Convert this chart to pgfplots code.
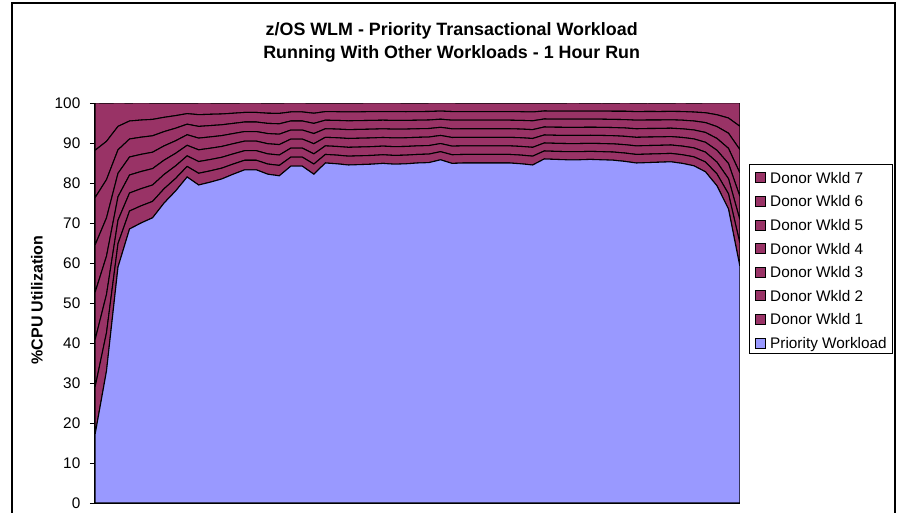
\documentclass[border=0pt]{standalone}
\usepackage{fontspec}
\setmainfont{Liberation Sans}
\usepackage{pgfplots}
\usepackage{pgfplotstable}
\pgfplotsset{compat=1.18}
\definecolor{prio}{RGB}{153,153,255}
\definecolor{donor}{RGB}{153,51,102}
\pgfplotstableread{
i p d
0 17 11.86
1 33 9.57
2 59 5.86
3 68.5 4.5
4 70 4.29
5 71.3 4.1
6 75 3.57
7 78 3.14
8 81.5 2.64
9 79.5 2.93
10 80.2 2.83
11 81 2.71
12 82.2 2.54
13 83.3 2.39
14 83.3 2.39
15 82.2 2.54
16 81.8 2.6
17 84.2 2.26
18 84.2 2.26
19 82.2 2.54
20 85 2.14
21 84.8 2.17
22 84.5 2.21
23 84.6 2.2
24 84.7 2.19
25 84.9 2.16
26 84.7 2.19
27 84.8 2.17
28 85 2.14
29 85.1 2.13
30 85.8 2.03
31 84.9 2.16
32 85 2.14
33 85 2.14
34 85 2.14
35 85 2.14
36 85 2.14
37 84.8 2.17
38 84.5 2.21
39 86 2.0
40 85.9 2.01
41 85.8 2.03
42 85.8 2.03
43 85.9 2.01
44 85.8 2.03
45 85.7 2.04
46 85.4 2.09
47 85.0 2.14
48 85.1 2.13
49 85.2 2.11
50 85.3 2.1
51 84.9 2.16
52 84.3 2.24
53 82.8 2.46
54 79.3 2.96
55 73.5 3.79
56 59 5.86
}\cpudata
\begin{document}
\begin{tikzpicture}
\useasboundingbox (-71.25pt,-6.75pt) rectangle (604.5pt,377.25pt);
\draw[line width=1.2pt] (-62.25pt,-8pt) -- (-62.25pt,375pt) -- (600pt,375pt) -- (600pt,-8pt);
\begin{axis}[
  scale only axis,
  width=483.75pt, height=300pt,
  xmin=0, xmax=56, ymin=0, ymax=100,
  stack plots=y,
  area style,
  axis x line*=bottom, axis y line*=left,
  axis line style={-, black, line width=0.75pt},
  xtick=\empty,
  ytick={0,10,...,100},
  tick align=outside,
  major tick length=3.75pt,
  tick style={black, line width=0.75pt},
  /pgf/number format/assume math mode=true,
  yticklabel style={font=\fontsize{11.5}{13}\selectfont, xshift=-3.75pt},
  ylabel={\%CPU Utilization},
  ylabel style={at={(axis description cs:-0.0899,0.5075)}, anchor=center, font=\fontsize{12}{14}\selectfont\bfseries},
  title={z/OS WLM - Priority Transactional Workload\\Running With Other Workloads - 1 Hour Run},
  title style={at={(axis description cs:0.553,1.131)}, anchor=center, align=center, font=\fontsize{13.4}{17.25}\selectfont\bfseries},
  reverse legend,
  legend image code/.code={\draw[#1,draw=black,line width=0.6pt] (0pt,0.35pt) rectangle (7.5pt,7.85pt);},
  legend style={at={(1.014,0.8475)}, anchor=north west, draw=black, line width=0.6pt, fill=white,
    font=\fontsize{11.5}{13}\selectfont, inner xsep=4.5pt, inner ysep=1.5pt, row sep=2.7pt, column sep=3pt,
    nodes={inner sep=0pt, text height=12.6pt, text depth=2.4pt}, cells={anchor=base west}},
]
\addplot[fill=prio, draw=black, line width=0.8pt] table[x=i, y=p] {\cpudata} \closedcycle;
\addplot[fill=donor, draw=black, line width=0.8pt] table[x=i, y=d] {\cpudata} \closedcycle;
\addplot[fill=donor, draw=black, line width=0.8pt] table[x=i, y=d] {\cpudata} \closedcycle;
\addplot[fill=donor, draw=black, line width=0.8pt] table[x=i, y=d] {\cpudata} \closedcycle;
\addplot[fill=donor, draw=black, line width=0.8pt] table[x=i, y=d] {\cpudata} \closedcycle;
\addplot[fill=donor, draw=black, line width=0.8pt] table[x=i, y=d] {\cpudata} \closedcycle;
\addplot[fill=donor, draw=black, line width=0.8pt] table[x=i, y=d] {\cpudata} \closedcycle;
\addplot[fill=donor, draw=black, line width=0.8pt] table[x=i, y=d] {\cpudata} \closedcycle;
\legend{Priority Workload, Donor Wkld 1, Donor Wkld 2, Donor Wkld 3, Donor Wkld 4, Donor Wkld 5, Donor Wkld 6, Donor Wkld 7}
\end{axis}
\end{tikzpicture}
\end{document}
